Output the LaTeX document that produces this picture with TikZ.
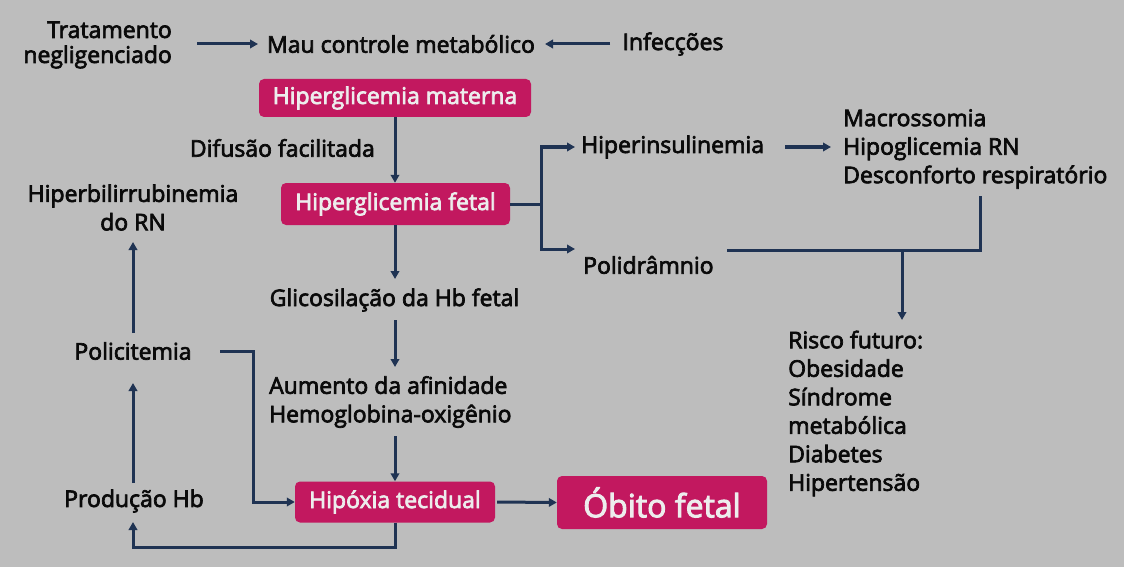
\documentclass[tikz,border=0pt]{standalone}
\usepackage{fontspec}
\setmainfont{Open Sans}[FakeBold=3]
\usetikzlibrary{arrows.meta,calc}
\definecolor{bg}{HTML}{BDBDBD}
\definecolor{mag}{HTML}{C2185F}
\definecolor{ln}{HTML}{1F3353}
\definecolor{txt}{HTML}{0A0A0A}
\definecolor{boxtxt}{HTML}{EDEDED}
\begin{document}
\begin{tikzpicture}[x=1pt,y=-1pt,
 lbl/.style={inner sep=0pt, text=txt, font=\fontsize{23}{28.5}\selectfont},
 box/.style={fill=mag, rounded corners=5pt, text=boxtxt, font=\fontsize{23}{26}\selectfont, inner sep=0pt},
 conn/.style={draw=ln, line width=3pt},
 arr/.style={conn, -{Triangle[length=8pt,width=8.5pt]}}]
\useasboundingbox (0,0) rectangle (1124,567);
\fill[bg] (0,0) rectangle (1124,567);
% nodes
\node[lbl, align=right, anchor=east, font=\fontsize{23}{25}\selectfont] (trat) at (172,45) {Tratamento\\negligenciado};
\node[lbl] (mau) at (401,44) {Mau controle metabólico};
\node[lbl] (inf) at (673,44) {Infecções};
\node[box, minimum width=272pt, minimum height=38pt] (hm) at (395,98) {Hiperglicemia materna};
\node[lbl, anchor=east] (dif) at (375,148) {Difusão facilitada};
\node[box, minimum width=229pt, minimum height=42pt] (hf) at (395.5,204) {Hiperglicemia fetal};
\node[lbl, anchor=west] (hins) at (581,147) {Hiperinsulinemia};
\node[lbl, anchor=west, align=left] (mac) at (843,149) {Macrossomia\\Hipoglicemia RN\\Desconforto respiratório};
\node[lbl, anchor=west] (poli) at (583,265) {Polidrâmnio};
\node[lbl, anchor=west, align=left] (risco) at (788,413.5) {Risco futuro:\\Obesidade\\Síndrome\\metabólica\\Diabetes\\Hipertensão};
\node[lbl, align=center] (hbil) at (133,207.5) {Hiperbilirrubinemia\\do RN};
\node[lbl] (polic) at (133,351) {Policitemia};
\node[lbl] (glic) at (394.5,300) {Glicosilação da Hb fetal};
\node[lbl, anchor=west, align=left] (aum) at (269,402) {Aumento da afinidade\\Hemoglobina-oxigênio};
\node[box, minimum width=200pt, minimum height=41pt] (hip) at (395,502) {Hipóxia tecidual};
\node[box, minimum width=210pt, minimum height=53pt, font=\fontsize{32}{36}\selectfont] (obito) at (662,502.5) {Óbito fetal};
\node[lbl] (prod) at (134,501) {Produção Hb};
% coordinates
\coordinate (fk) at (541,204);
\coordinate (pa) at (575,249);
\coordinate (mr) at (980,196);
\coordinate (pj) at (727,250);
\coordinate (jn) at (902,250);
\coordinate (rk) at (902,320);
\coordinate (g1) at (395,279);
\coordinate (g2) at (395,320);
\coordinate (a1) at (395,367);
\coordinate (a2) at (395,436);
\coordinate (pe) at (220,351);
\coordinate (pc) at (253,351);
\coordinate (lb) at (133,547);
\coordinate (pb) at (133,522);
\coordinate (p1) at (133,483);
\coordinate (p2) at (133,383);
\coordinate (q1) at (133,333);
\coordinate (q2) at (133,242);
\coordinate (t1) at (197,44);
\coordinate (t2) at (258,44);
\coordinate (i1) at (610,44);
\coordinate (i2) at (545,44);
\coordinate (h1) at (785,147);
\coordinate (h2) at (831,147);
\coordinate (hi) at (575,147);
% connectors
\draw[arr] (t1) -- (t2);
\draw[arr] (i1) -- (i2);
\draw[arr] (hm.south) -- (hm.south |- hf.north);
\draw[conn] (hf.east) -- (fk);
\draw[arr] (fk) |- (hi);
\draw[arr] (fk) |- (pa);
\draw[arr] (h1) -- (h2);
\draw[conn] (mr) |- (pj);
\draw[arr] (jn) -- (rk);
\draw[arr] (hf.south -| g1) -- (g1);
\draw[arr] (g2) -- (a1);
\draw[arr] (a2) -- (hip.north -| a2);
\draw[arr, shorten <=2pt] (hip.east) -- (obito.west);
\draw[arr] (pe) -- (pc) |- (hip.west);
\draw[arr] (hip.south) |- (lb) -- (pb);
\draw[arr] (p1) -- (p2);
\draw[arr] (q1) -- (q2);
\end{tikzpicture}
\end{document}
